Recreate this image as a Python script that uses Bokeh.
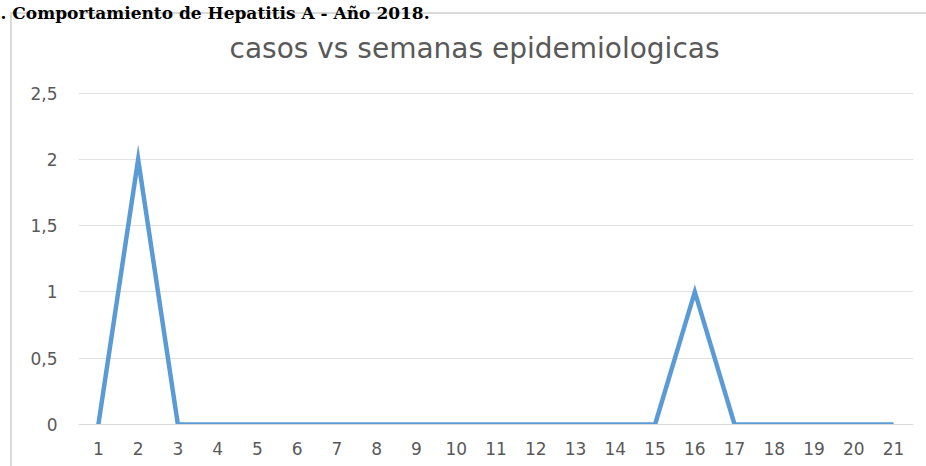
from bokeh.plotting import figure
from bokeh.models import Range1d, FixedTicker, CustomJSTickFormatter, Title
from bokeh.embed import file_html
from bokeh.resources import INLINE

# Data
semanas = list(range(1, 22))
casos = [0, 2, 0, 0, 0, 0, 0, 0, 0, 0, 0, 0, 0, 0, 0, 1, 0, 0, 0, 0, 0]
y_ticks = [0, 0.5, 1, 1.5, 2, 2.5]
chart_title = "casos vs semanas epidemiologicas"
doc_title = ". Comportamiento de Hepatitis A - Año 2018."

W, H = 934, 474
GRAY = "#595959"
FONT = "DejaVu Sans"

p = figure(width=W, height=H, output_backend="svg", toolbar_location=None,
           x_range=Range1d(0.5, 21.5), y_range=Range1d(0, 2.505),
           min_border_left=86, min_border_right=13, min_border_top=100, min_border_bottom=42)
p.styles = {
    "margin": "-8px -8px -8px -8px",
    "box-shadow": "inset 18px 20px 0 0 white, inset 20px 22px 0 0 #dadada",
}
p.outline_line_color = None
p.background_fill_color = "white"
p.border_fill_color = None

p.line(semanas, casos, line_color="#5B9BD5", line_width=4.5, line_join="miter")

# axes
p.xaxis.ticker = FixedTicker(ticks=semanas)
p.yaxis.ticker = FixedTicker(ticks=y_ticks)
p.yaxis.formatter = CustomJSTickFormatter(code="return tick.toString().replace('.', ',');")
for ax in (p.xaxis[0], p.yaxis[0]):
    ax.major_tick_line_color = None
    ax.minor_tick_line_color = None
    ax.major_tick_out = 0
    ax.major_tick_in = 0
    ax.major_label_text_font = FONT
    ax.major_label_text_font_size = "17px"
    ax.major_label_text_color = GRAY
p.yaxis.axis_line_color = None
p.xaxis.axis_line_color = "#d9d9d9"
p.xaxis.major_label_standoff = 17
p.yaxis.major_label_standoff = 21

p.xgrid.grid_line_color = None
p.ygrid.grid_line_color = "#e2e2e2"
p.ygrid.grid_line_width = 1

# document caption (outermost title)
p.title.text = doc_title
p.title.align = "left"
p.title.offset = -78
p.title.standoff = -40
p.title.text_font = "DejaVu Serif"
p.title.text_font_size = "17px"
p.title.text_font_style = "bold"
p.title.text_color = "black"

# chart title (nearest the plot)
p.add_layout(Title(text=chart_title, align="left", offset=151, standoff=55,
                   text_font=FONT, text_font_size="28px", text_font_style="normal",
                   text_color=GRAY), "above")

open("out.html", "w").write(file_html(p, INLINE))
